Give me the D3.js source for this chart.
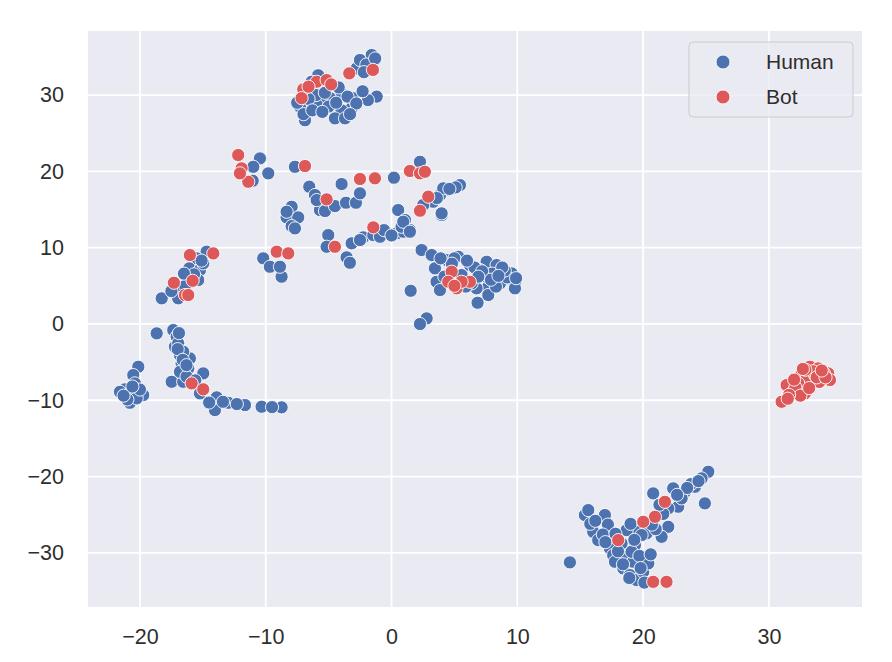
<!DOCTYPE html>
<html>
<head>
<meta charset="utf-8">
<script src="https://cdn.jsdelivr.net/npm/d3@7"></script>
<style>
  html, body { margin: 0; padding: 0; background: #ffffff; }
  svg { display: block; }
</style>
</head>
<body>
<svg id="chart" width="892" height="662"></svg>
<script>
// ---- data (t-SNE coordinates) ----
const seriesNames = ["Human", "Bot"];
const xTicks = [-20, -10, 0, 10, 20, 30];
const yTicks = [-30, -20, -10, 0, 10, 20, 30];

const humanPoints = [
  // top cluster
  [-1.58,35.25],[-1.88,33.72],[-2.77,33.5],[-2.51,34.6],[-1.18,29.8],[-1.88,29.35],[-5.83,32.6],[-6.35,31.75],
  [-3.97,30.2],[-4.9,29.6],[-5.56,29.1],[-3.17,28.3],[-3.97,28.0],[-4.5,26.95],[-3.7,26.95],[-7.28,28.5],
  [-6.88,26.7],[-5.95,28.7],[-3.07,29.6],[-6.0,30.0],[-5.0,28.5],[-2.3,30.5],[-4.4,29.0],[-6.6,29.5],[-2.0,34.0],[-7.0,27.5],
  [-5.3,30.3],[-4.2,31.0],[-3.5,29.8],[-2.8,28.9],[-6.3,28.0],[-7.5,29.0],[-5.5,27.8],[-3.3,27.5],[-1.3,34.8],[-2.2,33.0],
  // upper-left group
  [-10.46,21.7],[-10.99,20.6],[-9.8,19.74],[-11.04,18.77],[-7.68,20.6],
  [0.19,19.17],[2.26,21.1],[2.26,21.26],
  // middle group
  [-6.54,17.99],[-6.09,16.9],[-5.69,14.93],[-5.29,14.8],[-4.5,15.45],[-3.97,18.34],[-3.62,15.89],[-2.83,15.89],
  [-2.51,17.12],[-5.95,16.24],
  [-7.94,15.36],[-8.34,13.97],[-7.42,13.97],[-7.94,12.83],[-7.68,12.53],[-8.34,14.71],
  // chain
  [-5.03,11.65],[-5.16,10.12],[-3.57,8.73],[-3.31,8.02],[-3.17,10.57],[-2.25,11.35],[-1.45,11.65],[-0.39,11.88],
  [0.41,11.88],[0.93,12.09],[1.46,12.31],[0.53,14.93],[1.07,13.62],[0.8,12.74],[-2.51,11.0],[-0.92,11.43],
  [0.93,13.4],[1.46,12.09],[-0.6,12.3],[0.0,11.6],
  // upper right chain
  [5.44,18.21],[4.9,17.78],[4.38,17.55],[3.85,16.9],[3.31,16.02],[3.98,14.28],[2.52,15.59],[3.98,14.5],
  [4.11,17.78],[5.44,18.2],[5.1,17.9],[4.6,17.7],[3.6,16.5],
  // right middle cluster
  [2.39,9.69],[3.19,9.03],[4.38,8.38],[5.3,8.81],[6.23,7.72],[7.56,8.15],[8.35,7.72],[9.55,6.63],[9.81,5.32],
  [9.81,4.67],[8.88,5.76],[7.69,4.88],[7.56,6.19],[6.76,4.67],[6.84,2.78],[7.69,3.79],[3.58,5.53],[3.85,4.44],
  [5.57,6.41],[6.37,5.32],[3.45,7.29],[1.52,4.35],[2.79,0.73],[2.26,-0.01],[8.62,5.32],[7.03,7.07],
  [5.0,8.6],[6.6,7.4],[8.0,6.6],[9.2,6.1],[4.2,6.2],[7.2,6.9],[8.3,4.9],[6.0,8.3],[9.0,7.0],
  [8.8,7.4],[9.9,6.0],[7.9,5.8],[5.9,4.9],[4.8,7.9],[3.9,8.6],[6.9,6.2],[8.5,6.3],
  // left upper group
  [-14.7,9.47],[-15.49,8.6],[-16.08,7.29],[-15.23,7.07],[-15.37,5.76],[-17.14,4.22],[-18.27,3.36],[-16.96,3.36],
  [-14.97,7.94],[-15.7,6.5],[-16.4,5.0],[-15.1,8.3],[-16.5,6.6],[-17.5,4.3],
  [-10.2,8.6],[-8.74,6.19],[-9.67,7.5],[-8.87,7.5],
  // left arc
  [-18.67,-1.23],[-17.35,-0.8],[-17.08,-1.68],[-17.22,-2.99],[-16.82,-4.08],[-16.69,-5.17],[-16.03,-4.51],
  [-16.16,-5.82],[-14.97,-6.48],[-17.48,-7.58],[-16.56,-7.58],[-15.23,-9.1],[-13.9,-9.62],[-14.04,-11.29],
  [-12.98,-10.33],[-11.65,-10.63],[-10.33,-10.85],[-8.74,-10.93],[-16.82,-6.27],[-16.96,-2.54],[-16.56,-3.64],
  [-16.9,-1.2],[-16.3,-6.9],[-14.5,-10.3],[-12.3,-10.5],[-9.5,-10.9],
  [-17.0,-3.3],[-16.6,-4.7],[-16.3,-5.4],[-15.6,-7.4],[-13.4,-10.2],
  // far left group
  [-20.13,-5.61],[-20.53,-6.7],[-20.4,-7.79],[-21.19,-8.57],[-21.59,-8.89],[-20.93,-9.54],[-19.74,-9.32],
  [-20.8,-10.33],[-20.26,-9.75],[-21.0,-9.9],[-20.0,-8.6],[-21.3,-9.4],[-20.6,-8.2],
  // bottom right cluster
  [25.18,-19.37],[24.65,-20.24],[24.12,-21.34],[24.91,-23.52],[23.32,-22.0],[22.39,-21.55],[20.8,-22.21],
  [22.79,-23.96],[22.0,-24.17],[22.0,-26.59],[20.28,-27.45],[19.48,-27.24],[18.69,-27.02],[16.96,-25.05],
  [15.37,-25.05],[16.03,-27.24],[15.64,-24.4],[16.43,-28.33],[17.36,-29.42],[17.62,-30.3],[18.55,-30.52],
  [19.35,-28.99],[18.29,-28.76],[17.76,-31.17],[18.42,-32.04],[18.95,-32.92],[19.48,-33.57],[20.01,-32.49],
  [20.41,-31.39],[19.21,-31.17],[14.18,-31.25],[19.88,-27.67],[19.08,-29.86],[21.47,-27.9],[23.06,-22.86],
  [15.8,-26.2],[17.2,-26.3],[18.0,-29.8],[19.7,-30.4],[21.0,-26.9],[23.8,-21.0],[21.6,-24.9],[18.9,-33.3],
  [20.1,-33.9],[16.8,-27.6],
  [24.4,-20.6],[23.5,-21.5],[22.7,-22.4],[21.3,-23.7],[20.7,-26.3],[19.0,-26.2],[17.8,-27.5],[16.2,-25.8],
  [18.4,-31.5],[19.8,-32.0],[20.6,-30.2],[17.0,-28.6],[19.3,-28.3]
];

const botPoints = [
  [-3.36,32.85],[-7.02,30.75],[-5.95,31.75],[-5.16,31.97],[-7.15,29.6],[-1.48,33.3],[-6.6,31.1],[-4.8,31.4],
  [-12.19,22.14],[-11.92,20.4],[-11.39,18.64],[-12.05,19.74],[-6.88,20.7],
  [-2.51,19.0],[-1.32,19.09],[1.46,20.05],[2.26,19.74],[2.65,19.95],
  [-5.16,16.33],[-4.5,10.12],[-1.45,12.66],[2.26,14.84],[2.92,16.68],
  [4.78,6.85],[4.51,5.53],[5.17,4.67],[6.23,5.53],[5.57,5.53],[5.0,5.0],
  [-16.03,9.03],[-15.81,5.66],[-17.3,5.4],[-16.42,3.79],[-16.16,3.79],[-14.17,9.25],
  [-9.13,9.47],[-8.21,9.25],
  [-15.89,-7.79],[-14.97,-8.57],
  [21.73,-23.31],[20.94,-25.28],[20.01,-25.93],[18.02,-28.33],[20.8,-33.8],[21.86,-33.8],
  [31.01,-10.2],[31.41,-8.01],[31.93,-8.89],[32.6,-6.48],[33.26,-5.61],[33.92,-5.82],[34.71,-6.48],
  [34.85,-7.35],[34.19,-7.35],[33.39,-7.79],[32.86,-9.1],[33.0,-7.13],[33.66,-6.7],[32.33,-7.79],[34.38,-6.48],
  [32.1,-8.3],[33.5,-6.2],[32.5,-9.4],[34.0,-7.6],
  [31.6,-9.3],[32.0,-7.3],[32.9,-6.0],[33.8,-7.0],[34.5,-7.0],[33.2,-8.4],[31.5,-9.8],[32.7,-5.9],[34.2,-6.1]
];

// ---- layout ----
const plot = { left: 88, right: 862, top: 31, bottom: 607 };
const colors = { Human: "#4C72B0", Bot: "#DD5858" };
const font = "'Liberation Sans', Arial, 'DejaVu Sans', sans-serif";
const markerR = 6.6;

const svg = d3.select("#chart");

const x = d3.scaleLinear().domain([-24.13, 37.4]).range([plot.left, plot.right]);
const y = d3.scaleLinear().domain([-37.1, 38.4]).range([plot.bottom, plot.top]);

// background
svg.append("rect")
  .attr("x", plot.left).attr("y", plot.top)
  .attr("width", plot.right - plot.left).attr("height", plot.bottom - plot.top)
  .attr("fill", "#EAEAF2");

// grid
const grid = svg.append("g");
grid.selectAll("line.gx").data(xTicks).enter().append("line")
  .attr("x1", d => x(d)).attr("x2", d => x(d))
  .attr("y1", plot.top).attr("y2", plot.bottom)
  .attr("stroke", "#ffffff").attr("stroke-width", 1.8);
grid.selectAll("line.gy").data(yTicks).enter().append("line")
  .attr("y1", d => y(d)).attr("y2", d => y(d))
  .attr("x1", plot.left).attr("x2", plot.right)
  .attr("stroke", "#ffffff").attr("stroke-width", 1.8);

// axes (labels only)
const fmt = d => (d < 0 ? "\u2212" + Math.abs(d) : String(d));
const xAxis = d3.axisBottom(x).tickValues(xTicks).tickSize(0).tickPadding(0).tickFormat(fmt);
const yAxis = d3.axisLeft(y).tickValues(yTicks).tickSize(0).tickPadding(0).tickFormat(fmt);

const gx = svg.append("g").attr("transform", `translate(0,${plot.bottom + 22})`).call(xAxis);
gx.select(".domain").remove();
gx.selectAll("text").attr("font-family", font).attr("font-size", 21.5).attr("fill", "#2e2e2e").attr("dy", "0.71em");

const gy = svg.append("g").attr("transform", `translate(${plot.left - 24},0)`).call(yAxis);
gy.select(".domain").remove();
gy.selectAll("text").attr("font-family", font).attr("font-size", 21.5).attr("fill", "#2e2e2e");

// points
const pts = svg.append("g");
pts.selectAll("circle.h").data(humanPoints).enter().append("circle")
  .attr("cx", d => x(d[0])).attr("cy", d => y(d[1])).attr("r", markerR)
  .attr("fill", colors.Human).attr("stroke", "#ffffff").attr("stroke-width", 0.9);
pts.selectAll("circle.b").data(botPoints).enter().append("circle")
  .attr("cx", d => x(d[0])).attr("cy", d => y(d[1])).attr("r", markerR)
  .attr("fill", colors.Bot).attr("stroke", "#ffffff").attr("stroke-width", 0.9);

// legend
const lg = svg.append("g").attr("transform", "translate(689,42)");
lg.append("rect").attr("width", 164).attr("height", 75).attr("rx", 4).attr("ry", 4)
  .attr("fill", "#EAEAF2").attr("fill-opacity", 0.8)
  .attr("stroke", "#cccccc").attr("stroke-width", 1);
seriesNames.forEach((name, i) => {
  const cy = 20 + i * 35;
  lg.append("circle").attr("cx", 34).attr("cy", cy).attr("r", 7)
    .attr("fill", colors[name]).attr("stroke", "#ffffff").attr("stroke-width", 0.9);
  lg.append("text").attr("x", 77).attr("y", cy).attr("dy", "0.35em")
    .attr("font-family", font).attr("font-size", 21).attr("fill", "#2e2e2e").text(name);
});
</script>
</body>
</html>
